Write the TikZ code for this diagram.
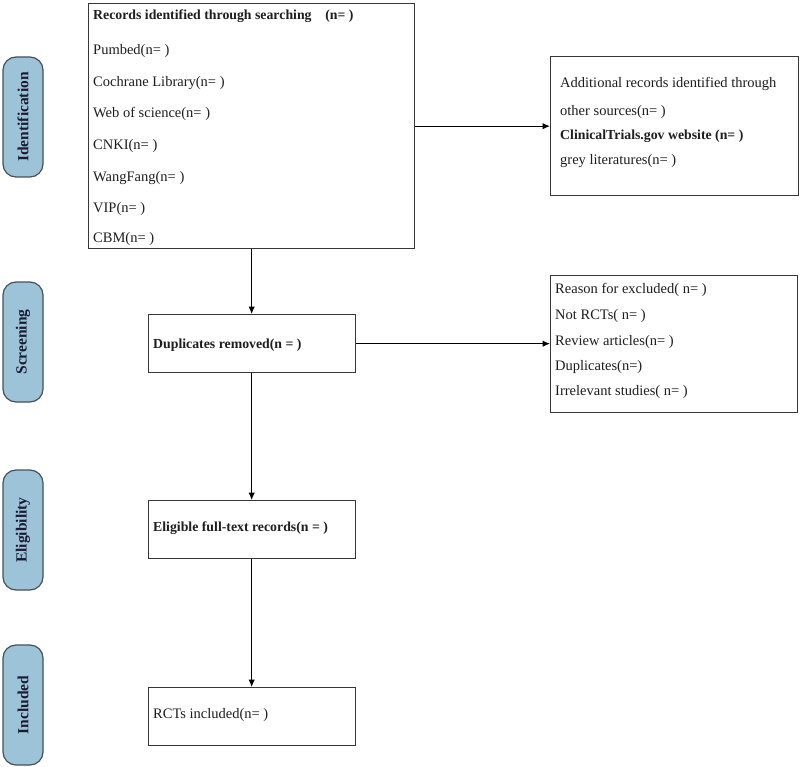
\documentclass[tikz,border=0pt]{standalone}
\usepackage{fontspec}
\setmainfont{Liberation Serif}
\usetikzlibrary{arrows.meta}
\definecolor{stagefill}{RGB}{157,195,216}
\definecolor{stageedge}{RGB}{70,80,90}
\definecolor{edgegray}{RGB}{55,55,55}
\definecolor{txtc}{RGB}{30,30,30}
\tikzset{
  box/.style={draw=edgegray, line width=1.3pt, fill=white, anchor=north west, inner sep=0pt},
  stage/.style={draw=stageedge, line width=1.2pt, fill=stagefill, rounded corners=13pt,
    minimum width=120pt, minimum height=40pt, rotate=90, inner sep=0pt,
    font=\fontsize{15.5}{17}\selectfont\bfseries, text=txtc!90!blue},
  line/.style={anchor=base west, inner sep=0pt, text=txtc, font=\fontsize{14.5}{16}\selectfont},
  bline/.style={line, font=\fontsize{13.8}{16}\selectfont\bfseries},
  arr/.style={draw=black, line width=1pt, -{Latex[length=7.5pt,width=6.5pt]}}
}
\begin{document}
\begin{tikzpicture}[x=1pt,y=-1pt]
\useasboundingbox (0,0) rectangle (800,767);
% stage labels
\node[stage] (sid) at (23,117) {Identification};
\node[stage] (ssc) at (23,342) {Screening};
\node[stage] (sel) at (23,530) {Eligibility};
\node[stage] (sin) at (23,705) {Included};
% boxes
\node[box, minimum width=326pt, minimum height=245pt] (search) at (88,3) {};
\node[box, minimum width=248pt, minimum height=139pt] (other) at (550,56) {};
\node[box, minimum width=207pt, minimum height=58pt] (dup) at (148,314) {};
\node[box, minimum width=247pt, minimum height=137pt] (excl) at (550,275) {};
\node[box, minimum width=207pt, minimum height=58pt] (elig) at (148,500) {};
\node[box, minimum width=207pt, minimum height=58pt] (incl) at (148,687) {};
% search box text
\node[bline] (t1) at (93,19.5) {Records identified through searching\quad(n= )};
\node[line] (t2) at (93,54.5) {Pumbed(n= )};
\node[line] (t3) at (93,86.5) {Cochrane Library(n= )};
\node[line] (t4) at (93,117.5) {Web of science(n= )};
\node[line] (t5) at (93,149.5) {CNKI(n= )};
\node[line] (t6) at (93,181.5) {WangFang(n= )};
\node[line] (t7) at (93,212.5) {VIP(n= )};
\node[line] (t8) at (93,242.5) {CBM(n= )};
% other sources text
\node[line] (o1) at (560,87.5) {Additional records identified through};
\node[line] (o2) at (560,115.5) {other sources(n= )};
\node[bline] (o3) at (560,139.5) {ClinicalTrials.gov website (n= )};
\node[line] (o4) at (560,164.5) {grey literatures(n= )};
% excluded text
\node[line] (e1) at (555,293.5) {Reason for excluded( n= )};
\node[line] (e2) at (555,319.5) {Not RCTs( n= )};
\node[line] (e3) at (555,345.5) {Review articles(n= )};
\node[line] (e4) at (555,370.5) {Duplicates(n=)};
\node[line] (e5) at (555,395.5) {Irrelevant studies( n= )};
% flow texts
\node[bline] (d1) at (153,348.5) {Duplicates removed(n = )};
\node[bline] (l1) at (153,531.5) {Eligible full-text records(n = )};
\node[line] (r1) at (153,718.5) {RCTs included(n= )};
% connectors
\draw[arr] (search.south) -- (search.south |- dup.north);
\draw[arr] (search.south |- dup.south) -- (search.south |- elig.north);
\draw[arr] (search.south |- elig.south) -- (search.south |- incl.north);
\draw[arr] (search.east) -- (search.east -| other.west);
\draw[arr] (dup.east) -- (dup.east -| excl.west);
\end{tikzpicture}
\end{document}
